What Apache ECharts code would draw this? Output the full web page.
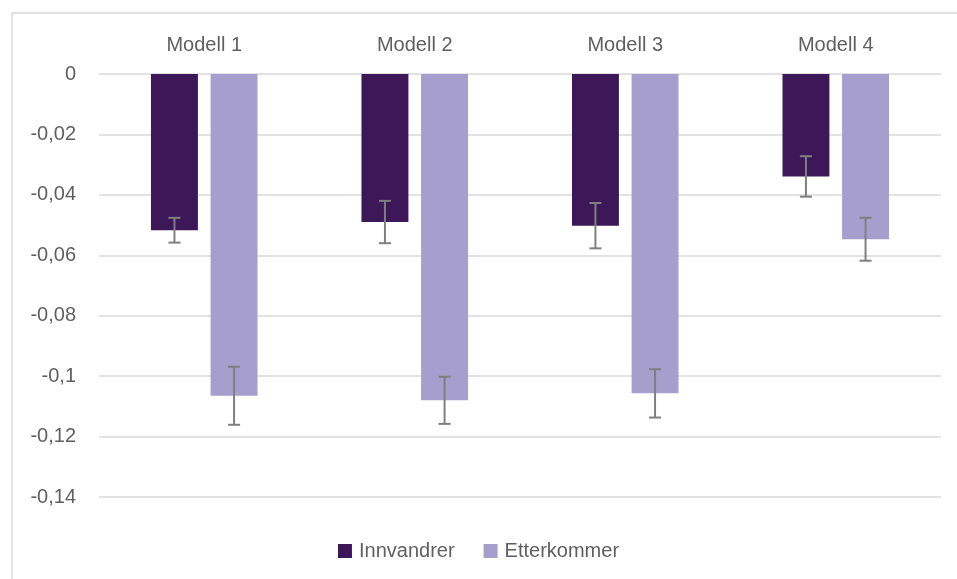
<!DOCTYPE html>
<html>
<head>
<meta charset="utf-8">
<script src="https://cdn.jsdelivr.net/npm/echarts@6/dist/echarts.min.js"></script>
<style>
html,body{margin:0;padding:0;background:#fff;}
#main{width:957px;height:579px;}
</style>
</head>
<body>
<div id="main"></div>
<script>
var categories = ['Modell 1', 'Modell 2', 'Modell 3', 'Modell 4'];
var seriesNames = ['Innvandrer', 'Etterkommer'];
var innvandrer = [-0.0517, -0.049, -0.0502, -0.0339];
var etterkommer = [-0.1065, -0.108, -0.1057, -0.0547];
var innvandrerErr = [0.0041, 0.007, 0.0075, 0.0067];
var etterkommerErr = [0.0096, 0.0078, 0.008, 0.0071];
var yTicks = [0, -0.02, -0.04, -0.06, -0.08, -0.1, -0.12, -0.14];

var FONT = 'Liberation Sans, Arial, sans-serif';
var TEXT = '#5f5f5f';
var BAR_W = 0.223, BAR_GAP = 0.27;

function errSeries(values, errs, sign) {
  return {
    type: 'custom',
    silent: true,
    z: 10,
    data: values.map(function (v, i) { return [i, v - errs[i], v + errs[i]]; }),
    renderItem: function (params, api) {
      var band = api.size([1, 0])[0];
      var off = sign * band * (BAR_W / 2 + BAR_W * BAR_GAP / 2);
      var lo = api.coord([api.value(0), api.value(1)]);
      var hi = api.coord([api.value(0), api.value(2)]);
      var x = lo[0] + off;
      var cap = 6;
      var style = { stroke: '#7f7f7f', lineWidth: 2 };
      return {
        type: 'group',
        children: [
          { type: 'line', shape: { x1: x, y1: lo[1], x2: x, y2: hi[1] }, style: style },
          { type: 'line', shape: { x1: x - cap, y1: lo[1], x2: x + cap, y2: lo[1] }, style: style },
          { type: 'line', shape: { x1: x - cap, y1: hi[1], x2: x + cap, y2: hi[1] }, style: style }
        ]
      };
    }
  };
}

var chart = echarts.init(document.getElementById('main'), null, { renderer: 'canvas' });
chart.setOption({
  animation: false,
  backgroundColor: '#fff',
  graphic: [{
    type: 'rect', left: 9.5, top: 10.5, shape: { width: 1000, height: 1000 },
    style: { fill: 'none', stroke: '#d9d9d9', lineWidth: 1.5 }, silent: true
  }],
  grid: { left: 99, right: 16, top: 74, bottom: 82 },
  legend: {
    data: seriesNames,
    bottom: 13,
    left: 'center',
    itemWidth: 14, itemHeight: 14, itemGap: 29,
    icon: 'rect',
    textStyle: { color: TEXT, fontSize: 20, fontFamily: FONT, padding: [0, 0, 0, 2] }
  },
  xAxis: {
    type: 'category',
    data: categories,
    position: 'top',
    axisLine: { show: false },
    axisTick: { show: false },
    axisLabel: { color: TEXT, fontSize: 20, fontFamily: FONT, margin: 19 }
  },
  yAxis: {
    type: 'value',
    min: -0.14, max: 0, interval: 0.02,
    axisLine: { show: false },
    axisTick: { show: false },
    splitLine: { lineStyle: { color: '#d9d9d9', width: 1.5 } },
    axisLabel: {
      color: TEXT, fontSize: 20, fontFamily: FONT, margin: 23,
      formatter: function (v) {
        var r = Math.round(v * 100) / 100;
        return String(r).replace('.', ',');
      }
    }
  },
  series: [
    { name: seriesNames[0], type: 'bar', data: innvandrer, barWidth: (BAR_W * 100) + '%', barGap: (BAR_GAP * 100) + '%', itemStyle: { color: '#3d1859' } },
    { name: seriesNames[1], type: 'bar', data: etterkommer, barWidth: (BAR_W * 100) + '%', itemStyle: { color: '#a69ecd' } },
    errSeries(innvandrer, innvandrerErr, -1),
    errSeries(etterkommer, etterkommerErr, 1)
  ]
});
</script>
</body>
</html>
